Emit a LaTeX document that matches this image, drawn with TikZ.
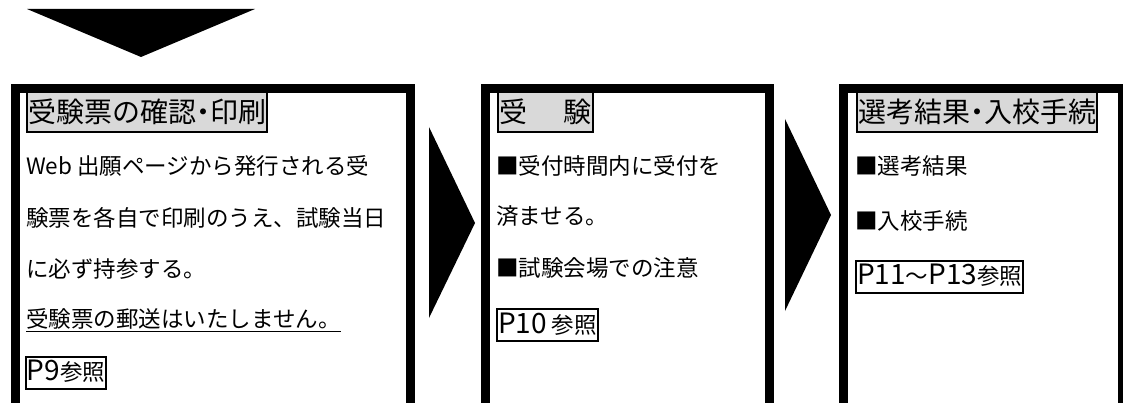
\documentclass[tikz,border=0pt]{standalone}
\usepackage{fontspec}
\usepackage{xcolor}
\setmainfont{Noto Sans CJK JP}
\definecolor{headgray}{HTML}{D9D9D9}
\newcommand{\latn}[1]{{\fontsize{28}{28}\selectfont #1}}
\newcommand{\middot}{\hspace{-0.25em}・\hspace{-0.25em}}

\begin{document}
\begin{tikzpicture}[x=1pt,y=-1pt,
    panel/.style={draw,line width=9pt,anchor=north west,inner sep=0pt,minimum height=400pt},
    heading/.style={draw,line width=2pt,fill=headgray,anchor=west,inner xsep=1pt,inner ysep=0pt,
        minimum height=40pt,text height=25pt,text depth=3pt,font=\fontsize{28}{28}\selectfont},
    bodytext/.style={anchor=west,inner sep=0pt,text height=19pt,text depth=4pt,
        font=\fontsize{22.5}{22.5}\selectfont},
    refbox/.style={draw,line width=2pt,anchor=west,inner xsep=1pt,inner ysep=0pt,
        minimum height=32pt,text height=21pt,text depth=5pt,font=\fontsize{22.5}{22.5}\selectfont}]
        \useasboundingbox (0,0) rectangle (1123,403);

        % arrow from the step above
        \fill (27,9) -- (255,9) -- (141,57) -- cycle;

        \node[panel,minimum width=395pt] (step1) at (10.5,84.5) {};
        \node[panel,minimum width=284pt] (step2) at (480.5,84.5) {};
        \node[panel,minimum width=279pt] (step3) at (839,84.5) {};

        \fill (429,127) -- (475,223) -- (429,318) -- cycle;
        \fill (785,119) -- (831,215) -- (785,311) -- cycle;

        \node[heading] (head1) at (26,112) {受験票の確認\middot 印刷};
        \node[bodytext] (text1a) at (26,167) {Web 出願ページから発行される受};
        \node[bodytext] (text1b) at (26,219) {験票を各自で印刷のうえ、試験当日};
        \node[bodytext] (text1c) at (26,270) {に必ず持参する。};
        \node[bodytext] (text1d) at (26,320) {受験票の郵送はいたしません。};
        \draw[line width=1.5pt] (text1d.south west) -- (text1d.south east);
        \node[refbox] (ref1) at (25,372.5) {\latn{P9}参照};

        \node[heading] (head2) at (497,112) {受\hspace{37pt}験};
        \node[bodytext] (text2a) at (496,167) {■受付時間内に受付を};
        \node[bodytext] (text2b) at (496,217) {済ませる。};
        \node[bodytext] (text2c) at (496,269) {■試験会場での注意};
        \node[refbox] (ref2) at (496,325) {\latn{P10} 参照};

        \node[heading] (head3) at (856,112) {選考結果\middot 入校手続};
        \node[bodytext] (text3a) at (855,167) {■選考結果};
        \node[bodytext] (text3b) at (855,222) {■入校手続};
        \node[refbox] (ref3) at (855,276.5) {\latn{P11}～\latn{P13}参照};
    \end{tikzpicture}
\end{document}
